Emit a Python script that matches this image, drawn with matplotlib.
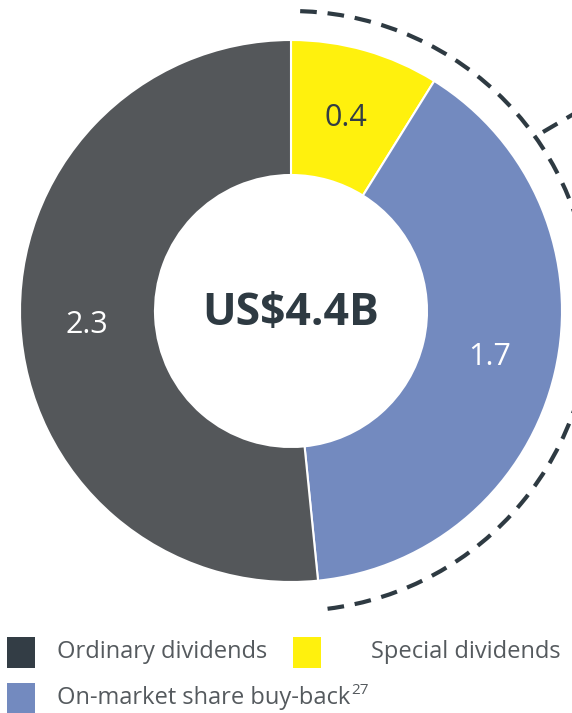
import matplotlib
matplotlib.use("Agg")
import matplotlib.pyplot as plt
from matplotlib.patches import Rectangle, Arc

plt.rcParams['font.family'] = ['Open Sans', 'DejaVu Sans']

categories = ["Special dividends", "On-market share buy-back", "Ordinary dividends"]
values = [0.39, 1.74, 2.27]
value_labels = ["0.4", "1.7", "2.3"]
colors = ["#FFF10D", "#738ABF", "#54575A"]
label_colors = ["#333D45", "white", "white"]
total_label = "US$4.4B"

W, H = 572, 713
fig = plt.figure(figsize=(W / 100, H / 100), dpi=100)
ax = fig.add_axes([0, 0, 1, 1])

cx, cy = 291, H - 311
R = 271
ax.pie(values, colors=colors, startangle=90, counterclock=False,
       center=(cx, cy), radius=R, frame=True,
       wedgeprops=dict(width=R - 136, edgecolor='white', linewidth=1.5))
ax.set_xlim(0, W)
ax.set_ylim(0, H)
ax.set_aspect('equal')
ax.axis('off')

# value labels
label_pos = [(346, H - 118), (490, H - 357), (87, H - 325)]
for t, (x, y), c in zip(value_labels, label_pos, label_colors):
    ax.text(x, y, t, ha='center', va='center', fontsize=22, color=c)

ax.text(cx, H - 313, total_label, ha='center', va='center', fontsize=32,
        fontweight='bold', color='#2E3A42')

# dashed arc
arc = Arc((cx, cy), 600, 600, theta1=-83, theta2=90, color='#2E3A42',
          linewidth=3, linestyle=(0, (4, 2.6)))
ax.add_patch(arc)
ax.plot([543, 590], [H - 132, H - 132 + 27.6], color='#2E3A42', linewidth=3,
        linestyle=(0, (4, 2.6)), clip_on=True)

# legend
leg = [("Ordinary dividends", "#333D45", 7, 57, 652),
       ("Special dividends", "#FFF10D", 293, 371, 652),
       ("On-market share buy-back", "#738ABF", 7, 57, 698)]
texts = []
for name, col, sx, tx, ty in leg:
    ax.add_patch(Rectangle((sx, H - ty - 15.5), 28, 31, color=col, lw=0))
    texts.append(ax.text(tx, H - ty, name, ha='left', va='center', fontsize=17,
                         color='#555A5E'))

fig.canvas.draw()
bb = texts[2].get_window_extent()
ax.text(bb.x1 + 1, H - 690, "27", ha='left', va='center', fontsize=11, color='#555A5E')

fig.savefig("out.png", dpi=100)
